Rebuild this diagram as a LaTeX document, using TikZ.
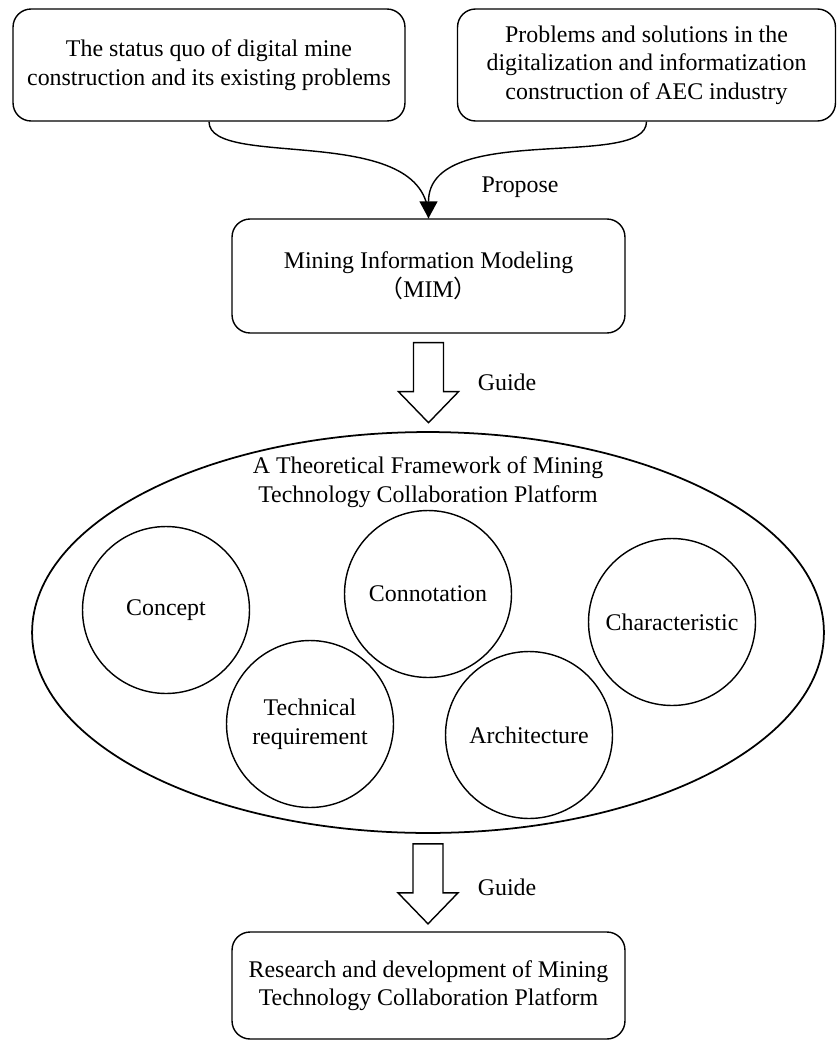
\documentclass[tikz,border=0pt]{standalone}
\usepackage{fontspec}
\setmainfont{Liberation Serif}
\newfontfamily\cjk{Noto Sans CJK SC}
\usetikzlibrary{calc,shapes.geometric,arrows.meta}
\newcommand{\guidearrow}[1]{\draw[line width=0.8pt] ($#1$) -- ++(30,0) -- ++(0,49) -- ++(15,0) -- ++(-30,31) -- ++(-30,-31) -- ++(15,0) -- cycle;}

\begin{document}
\begin{tikzpicture}[x=0.02cm, y=-0.02cm, font=\fontsize{13.6}{16.3}\selectfont,
	box/.style={draw, line width=0.8pt, rounded corners=0.36cm, align=center},
	part/.style={draw, circle, line width=0.8pt, minimum size=3.34cm, inner sep=0pt, align=center}]
			%%%%% START %%%%%
			\useasboundingbox (0, 0) rectangle (837, 1041);
			
			\node[box, minimum width=7.84cm, minimum height=2.24cm] (status) at (209, 65) {The status quo of digital mine\\construction and its existing problems};
			\node[box, minimum width=7.56cm, minimum height=2.24cm] (aec) at (646.5, 65) {Problems and solutions in the\\digitalization and informatization\\construction of AEC industry};
			
			\node[box, minimum width=7.86cm, minimum height=2.28cm] (mim) at (428.5, 276) {Mining Information Modeling\\{\cjk （}MIM{\cjk ）}};
			
			\draw[line width=0.8pt] (status.south) .. controls +(0, 49) and +(0, -98) .. (mim.north);
			\draw[line width=0.8pt, -{Triangle[length=0.34cm, width=0.36cm]}] (aec.south) .. controls +(0, 49) and +(0, -98) .. (mim.north);
			\node (propose) at (520, 187) {Propose};
			
			\guidearrow{(mim.south)+(-15, 9)}
			\node (guide1) at (507, 382) {Guide};
			
			\node[draw, ellipse, line width=1pt, minimum width=15.84cm, minimum height=8.02cm, inner sep=0pt] (frame) at (428, 632.5) {};
			\node[align=center] (frametitle) at (428, 482) {A Theoretical Framework of Mining\\Technology Collaboration Platform};
			
			\node[part] (concept) at (166, 610) {Concept};
			\node[part] (connotation) at (428, 594) {Connotation};
			\node[part] (character) at (672, 622) {Characteristic};
			\node[part] (techreq) at (310, 724) {Technical\\requirement};
			\node[part] (architecture) at (529, 735) {Architecture};
			
			\guidearrow{(frame.south)+(-15, 10)}
			\node (guide2) at (507, 887) {Guide};
			
			\node[box, minimum width=7.86cm, minimum height=2.14cm] (rnd) at (428.5, 985.5) {Research and development of Mining\\Technology Collaboration Platform};
			%%%%% END %%%%%
\end{tikzpicture}
\end{document}
